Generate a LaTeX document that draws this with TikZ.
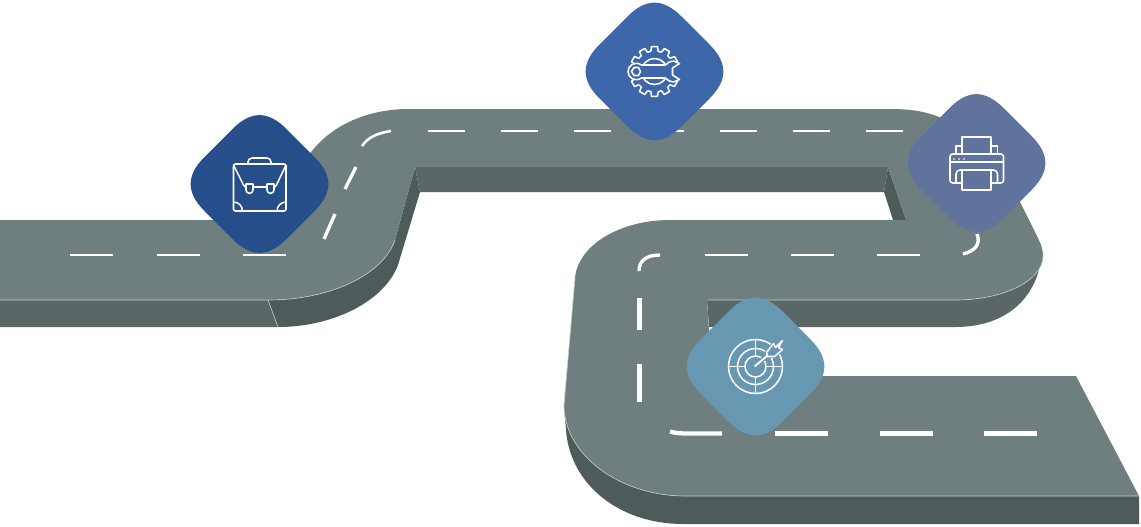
\documentclass[tikz,border=0pt]{standalone}
\definecolor{roadtop}{HTML}{6F7F80}
\definecolor{wallmid}{HTML}{5A6766}
\definecolor{walldark}{HTML}{4E5B5B}
\definecolor{edgelight}{HTML}{C4CCCC}
\definecolor{dblue}{HTML}{264E8B}
\definecolor{mblue}{HTML}{3E67AA}
\definecolor{sblue}{HTML}{5F739D}
\definecolor{lblue}{HTML}{6897B2}
\tikzset{
  lanethin/.style={draw=white,line width=1.9pt},
  lanediag/.style={draw=white,line width=2.5pt},
  lanethick/.style={draw=white,line width=3.2pt},
  icon/.style={draw=white,line width=1.15pt,line join=round},
  rim/.style={draw=edgelight,line width=0.45pt}
}
% rounded square tile: half diagonal 82, tangent offset 27 (38/sqrt2), control offset 8.5
\newcommand{\tilepath}[3]{\begin{scope}[shift={(#1,#2)}]
  \fill[#3] (-55,-27) -- (-27,-55) .. controls (-8.5,-73.5) and (8.5,-73.5) .. (27,-55)
    -- (55,-27) .. controls (73.5,-8.5) and (73.5,8.5) .. (55,27)
    -- (27,55) .. controls (8.5,73.5) and (-8.5,73.5) .. (-27,55)
    -- (-55,27) .. controls (-73.5,8.5) and (-73.5,-8.5) .. (-55,-27) -- cycle;
\end{scope}}
\begin{document}
\begin{tikzpicture}[x=0.75pt,y=-0.75pt]
\useasboundingbox (0,0) rectangle (1141,526);
% walls
\fill[wallmid] (0,300) -- (268,300) -- (278,327) -- (0,327) -- cycle;
\fill[walldark] (268,300) .. controls (330,300) and (383,275) .. (395,240) -- (415,167) -- (420,192) -- (398,265) .. controls (385,300) and (335,327) .. (278,327) -- cycle;
\fill[wallmid] (415,167) -- (888,167) -- (884,192) -- (420,192) -- cycle;
\fill[walldark] (888,167) -- (906,220) -- (893,220) -- (884,192) -- cycle;
\fill[wallmid] (707,300) -- (955,300) .. controls (1005,300) and (1043,280) .. (1043,256) -- (1038,273) .. controls (1028,305) and (1000,327) .. (955,327) -- (709,327) -- cycle;
\fill[walldark] (564,405) .. controls (564,455) and (620,496) .. (685,496) -- (1139,496) -- (1139,524) -- (683,524) .. controls (620,524) and (570,485) .. (566,430) -- cycle;
% road surface
\fill[roadtop] (0,220) -- (240,220) -- (300,170) .. controls (320,128) and (365,109) .. (408,109)
  -- (890,109) .. controls (920,109) and (938,114) .. (960,128)
  -- (1020,202) -- (1034,230) .. controls (1040,242) and (1043,248) .. (1043,256)
  .. controls (1043,280) and (1005,300) .. (955,300) -- (707,300) -- (712,376) -- (1076,376)
  -- (1139,496) -- (685,496) .. controls (620,496) and (564,455) .. (564,405)
  -- (575,278) .. controls (578,245) and (620,220) .. (670,220) -- (906,220) -- (888,167)
  -- (415,167) -- (395,240) .. controls (383,275) and (330,300) .. (268,300) -- (0,300) -- cycle;
% rim highlights
\draw[rim] (0,300) -- (268,300) .. controls (330,300) and (383,275) .. (395,240);
\draw[rim] (268,300) -- (278,327);
\draw[rim] (707,300) -- (955,300) .. controls (1005,300) and (1043,280) .. (1043,256);
\draw[rim] (575,278) -- (564,405) .. controls (564,455) and (620,496) .. (685,496) -- (1139,496);
% lane markings
\draw[lanethin] (70,255) -- (113,255);
\draw[lanethin] (157,255) -- (200,255);
\draw[lanethin] (243,255) -- (286,255);
\draw[lanediag] (324,239) -- (335,214);
\draw[lanediag] (345,189) -- (356,167);
\draw[lanethin] (362,146) .. controls (368,137) and (378,133) .. (391,131);
\foreach \xa in {428,501,574,647,720,793,866}
  \draw[lanethin] (\xa,131) -- (\xa+37,131);
\draw[lanediag] (977,234) .. controls (981,244) and (975,251) .. (963,254);
\foreach \xa in {705,791,877}
  \draw[lanethin] (\xa,255) -- (\xa+43,255);
\draw[lanediag] (639,271) .. controls (639,261) and (646,255) .. (660,255);
\draw[lanethick] (639.5,298) -- (639.5,330);
\draw[lanethick] (639.5,364) -- (639.5,402);
\draw[lanethick] (670,431.5) .. controls (674,433) and (680,433.5) .. (690,433.5) -- (722,433.5);
\foreach \xa in {775,880,984}
  \draw[lanethick] (\xa,433.5) -- (\xa+53,433.5);
% tiles
\tilepath{259.5}{184}{dblue}
\tilepath{654.5}{71.5}{mblue}
\tilepath{976.5}{163}{sblue}
\tilepath{755.5}{366.5}{lblue}
% briefcase
\begin{scope}[shift={(259.5,184)}]
  \draw[icon,rounded corners=1.5pt] (-26,-20) rectangle (26.5,27);
  \draw[icon,rounded corners=3pt] (-11.5,-20) -- (-11.5,-26) -- (11.5,-26) -- (11.5,-20);
  \draw[icon] (-26,-19) -- (-16,1) .. controls (-15,3) and (-14,3) .. (-13,3) -- (14,3) .. controls (15,3) and (16,3) .. (17,1) -- (26.5,-19);
  \draw[icon,fill=dblue] (-13.5,0) -- (-13.5,6) .. controls (-13.5,10.5) and (-6.5,10.5) .. (-6.5,6) -- (-6.5,0) -- cycle;
  \draw[icon,fill=dblue] (7.5,0) -- (7.5,6) .. controls (7.5,10.5) and (14.5,10.5) .. (14.5,6) -- (14.5,0) -- cycle;
  \draw[icon] (-26,18) .. controls (-21,18) and (-17,22) .. (-17,27);
  \draw[icon] (26.5,18) .. controls (21.5,18) and (17.5,22) .. (17.5,27);
\end{scope}
% gear with wrench
\begin{scope}[shift={(654.5,71.5)}]
  \foreach \a in {0,30,...,330}
    \draw[icon] (\a-10:20.5) -- (\a-7:25) -- (\a+7:25) -- (\a+10:20.5) -- (\a+20:20.5);
  \draw[icon] (0,0) circle[radius=13];
  \fill[mblue] (17,-6) rectangle (28,6);
  \draw[icon,fill=mblue] (-13,-6.5) -- (11,-6.5) .. controls (13,-9) and (16,-10.5) .. (19,-10.5) -- (25,-8) -- (18,-3.5) -- (18,3.5) -- (25,8) -- (19,10.5) .. controls (16,10.5) and (13,9) .. (11,6.5) -- (-13,6.5)
    .. controls (-20,11) and (-26.5,6) .. (-26.5,0) .. controls (-26.5,-6) and (-20,-11) .. (-13,-6.5) -- cycle;
  \draw[icon] (-14,0) -- (-16,-4) -- (-20.5,-4) -- (-23,0) -- (-20.5,4) -- (-16,4) -- cycle;
\end{scope}
% printer
\begin{scope}[shift={(976.5,163)}]
  \draw[icon] (-14.5,-9) -- (-14.5,-26) -- (14.5,-26) -- (14.5,-9);
  \draw[icon] (-14.5,-17) -- (-20.5,-17) -- (-20.5,-9);
  \draw[icon] (14.5,-17) -- (21,-17) -- (21,-9);
  \draw[icon,rounded corners=2pt] (-14.5,20) -- (-26.5,20) -- (-26.5,-9) -- (27,-9) -- (27,20) -- (14.5,20);
  \draw[icon] (-26.5,-1) -- (27,-1);
  \fill[white] (-22.5,-4) circle[radius=0.9] (-17.5,-4) circle[radius=0.9] (-12.5,-4) circle[radius=0.9];
  \draw[icon,rounded corners=3pt] (-20.5,20) -- (-20.5,7) -- (21,7) -- (21,20);
  \draw[icon] (-14.5,7) -- (-14.5,27) -- (14.5,27) -- (14.5,7);
\end{scope}
% target
\begin{scope}[shift={(755.5,366.5)}]
  \draw[icon] (0,0) circle[radius=27];
  \draw[icon] (0,0) circle[radius=18];
  \draw[icon] (0,0) circle[radius=10.5];
  \draw[icon] (-27,0) -- (-10.5,0) (10.5,0) -- (27,0) (0,-27) -- (0,-10.5) (0,10.5) -- (0,27);
  \draw[draw=lblue,line width=3.5pt] (2,-3) -- (12,-11);
  \draw[draw=lblue,fill=lblue,line width=2.5pt] (11,-14) -- (18,-23) -- (27,-26) -- (27,-17) -- (19,-10) -- (12,-10) -- cycle;
  \draw[icon,fill=lblue] (11,-14) -- (18,-23) -- (20,-19) -- (27,-26) -- (23,-19) -- (27,-17) -- (19,-10) -- (12,-10) -- cycle;
  \draw[icon,line width=1.4pt] (-1,0) -- (12,-11);
\end{scope}
\end{tikzpicture}
\end{document}
